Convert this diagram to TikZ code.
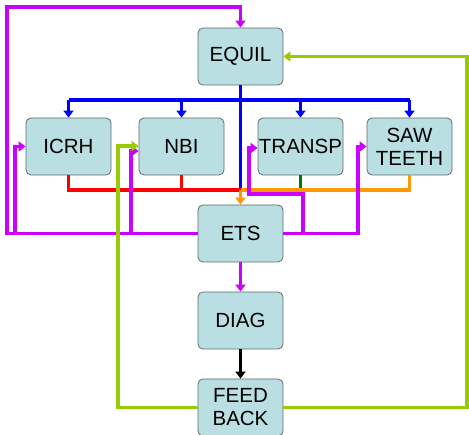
\documentclass[tikz,border=0pt]{standalone}
\usepackage{fontspec}
\setmainfont{Liberation Sans}
\usetikzlibrary{arrows.meta}
\definecolor{boxfill}{HTML}{BADFE2}
\definecolor{boxline}{HTML}{5E6A6C}
\definecolor{mag}{HTML}{CC00FF}
\definecolor{ygreen}{HTML}{99CC00}
\definecolor{orng}{HTML}{FF9900}
\definecolor{dgreen}{HTML}{007A00}
\tikzset{
  blk/.style={draw=boxline, line width=0.8pt, fill=boxfill, rounded corners=5pt,
    minimum width=85pt, minimum height=57pt, inner sep=0pt, align=center,
    font=\fontsize{20.5}{24}\selectfont},
  wire/.style={line width=3.2pt},
  tip/.style={-{Triangle[length=7pt,width=10pt]}},
}
\begin{document}
\begin{tikzpicture}[x=1pt,y=-1pt]
\useasboundingbox (0,0) rectangle (469,435);
\clip (0,0) rectangle (469,435);
% boxes
\node[blk] (equil) at (240.5,56.5) {EQUIL};
\node[blk] (icrh) at (68.5,146.5) {ICRH};
\node[blk] (nbi) at (181.5,146.5) {NBI};
\node[blk] (transp) at (300.5,146.5) {TRANSP};
\node[blk] (saw) at (409.5,146.5) {SAW\\[-1pt]TEETH};
\node[blk] (ets) at (240.5,233.5) {ETS};
\node[blk] (diag) at (240.5,320.5) {DIAG};
\node[blk] (feed) at (240.5,407.5) {FEED\\[-1pt]BACK};
% helper coordinates
\coordinate (bus) at (0,100);
\coordinate (j) at (240.5,190);
\coordinate (tl) at (7,7);
\coordinate (m1) at (15,0);
\coordinate (m2) at (131,151);
\coordinate (m3) at (358,0);
\coordinate (m4) at (303,194);
\coordinate (m5) at (249,148);
\coordinate (g1) at (118,146);
\coordinate (g2) at (467,0);
% blue
\draw[wire,blue] (equil.south) -- (j);
\draw[wire,blue] (bus -| icrh.north) -- (bus -| saw.north);
\draw[wire,blue,tip] (bus -| icrh.north) -- (icrh.north);
\draw[wire,blue,tip] (bus -| nbi.north) -- (nbi.north);
\draw[wire,blue,tip] (bus -| transp.north) -- (transp.north);
\draw[wire,blue,tip] (bus -| saw.north) -- (saw.north);
% red
\draw[wire,red] (icrh.south) -- (icrh.south |- j) -- (j);
\draw[wire,red] (nbi.south) -- (nbi.south |- j);
% green
\draw[wire,dgreen] (transp.south) -- (transp.south |- j);
% orange
\draw[wire,orng] (saw.south) -- (saw.south |- j) -- (j);
\draw[wire,orng,tip] (j) -- (ets.north);
% magenta
\draw[wire,mag,tip] (ets.west) -- (ets.west -| tl) -- (tl) -- (tl -| equil.north) -- (equil.north);
\draw[wire,mag,tip] (ets.west -| m1) -- (m1 |- icrh.west) -- (icrh.west);
\draw[wire,mag,tip] (ets.west -| m2) -- (m2) -- (m2 -| nbi.west);
\draw[wire,mag,tip] (ets.east) -- (ets.east -| m3) -- (m3 |- saw.west) -- (saw.west);
\draw[wire,mag,tip] (ets.east -| m4) -- (m4) -- (m4 -| m5) -- (m5) -- (m5 -| transp.west);
\draw[wire,mag,tip] (ets.south) -- (diag.north);
% black
\draw[wire,black,tip] (diag.south) -- (feed.north);
% yellow-green
\draw[wire,ygreen,tip] (feed.west) -- (feed.west -| g1) -- (g1) -- (g1 -| nbi.west);
\draw[wire,ygreen,tip] (feed.east) -- (feed.east -| g2) -- (g2 |- equil.east) -- (equil.east);
\end{tikzpicture}
\end{document}
